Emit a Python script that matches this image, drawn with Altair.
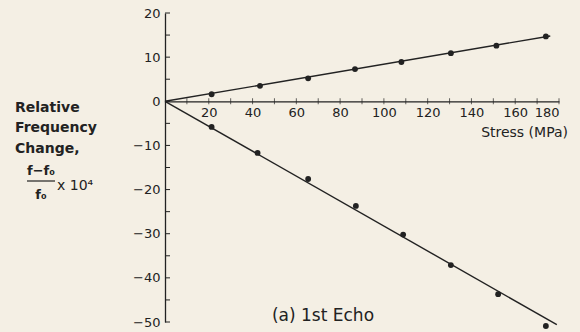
import altair as alt
import pandas as pd

# ---- data ----
up_x = [21.3, 43.4, 65.4, 86.8, 108.0, 130.6, 151.4, 174.0]
up_y = [1.6, 3.5, 5.2, 7.3, 8.9, 10.9, 12.6, 14.7]
lo_x = [21.3, 42.3, 65.4, 87.2, 108.8, 130.6, 152.2, 174.0]
lo_y = [-5.8, -11.7, -17.6, -23.7, -30.2, -37.1, -43.7, -50.9]

fit_up_x = [0, 176.0]
fit_up_y = [0, 14.8]
fit_lo_x = [0, 179.0]
fit_lo_y = [0, -50.6]

x_label_values = [20, 40, 60, 80, 100, 120, 140, 160, 180]
x_tick_values = [10, 20, 30, 40, 50, 60, 70, 80, 90, 100, 110, 120, 130, 140, 150, 160, 170, 180]
y_label_values = [20, 10, 0, -10, -20, -30, -40, -50]
y_tick_values = [20, 15, 10, 5, 0, -5, -10, -15, -20, -25, -30, -35, -40, -45, -50]

W, H = 394, 309
INK = "#222222"
FONT = "DejaVu Sans"

pts = pd.DataFrame(
    {"x": up_x + lo_x, "y": up_y + lo_y, "s": ["up"] * len(up_x) + ["lo"] * len(lo_x)}
)
fits = pd.DataFrame(
    {"x": fit_up_x + fit_lo_x, "y": fit_up_y + fit_lo_y, "s": ["up"] * 2 + ["lo"] * 2}
)
xt = pd.DataFrame({"x": x_tick_values, "y": [0] * len(x_tick_values)})
yt = pd.DataFrame({"y": y_tick_values})

xs = alt.Scale(domain=[0, 180], nice=False)
ys = alt.Scale(domain=[-50, 20], nice=False)

x_axis = alt.Axis(
    orient="bottom", offset=-H * 50 / 70, values=x_label_values, ticks=False,
    domainColor=INK, domainWidth=1.3, labelFont=FONT, labelFontSize=13, labelColor=INK,
    labelPadding=5, title=None, grid=False,
)
y_axis = alt.Axis(
    orient="left", values=y_label_values, ticks=False, domainColor=INK, domainWidth=1.3,
    labelFont=FONT, labelFontSize=13, labelColor=INK, labelPadding=5, title=None, grid=False,
)

lines = alt.Chart(fits).mark_line(color=INK, strokeWidth=1.4, clip=False).encode(
    x=alt.X("x:Q", scale=xs, axis=x_axis),
    y=alt.Y("y:Q", scale=ys, axis=y_axis),
    detail="s:N",
)
points = alt.Chart(pts).mark_circle(color=INK, size=34, opacity=1).encode(
    x=alt.X("x:Q", scale=xs), y=alt.Y("y:Q", scale=ys)
)
xticks = alt.Chart(xt).mark_tick(color=INK, size=6, thickness=1, orient="vertical").encode(
    x=alt.X("x:Q", scale=xs), y=alt.Y("y:Q", scale=ys)
)
yticks = alt.Chart(yt).mark_rule(color=INK, strokeWidth=1).encode(
    x=alt.value(0), x2=alt.value(5), y=alt.Y("y:Q", scale=ys)
)


def txt(s, x, y, size=14, weight="bold", align="left"):
    return alt.Chart(pd.DataFrame({"t": [s]})).mark_text(
        font=FONT, fontSize=size, fontWeight=weight, color=INK, align=align, baseline="middle"
    ).encode(x=alt.value(x), y=alt.value(y), text="t:N")


labels = [
    txt("Relative", -150, 95),
    txt("Frequency", -150, 115),
    txt("Change,", -150, 136),
    txt("f−f₀", -124, 158, size=13, align="center"),
    txt("f₀", -124, 182, size=13, align="center"),
    txt("x 10⁴", -108, 173, size=14, weight="normal"),
    txt("Stress (MPa)", 403, 120, size=14, weight="normal", align="right"),
    txt("(a) 1st Echo", 158, 303, size=17, weight="normal", align="center"),
]
frac_bar = alt.Chart(pd.DataFrame({"a": [0]})).mark_rule(color=INK, strokeWidth=1.2).encode(
    x=alt.value(-138), x2=alt.value(-110), y=alt.value(168)
)

chart = alt.layer(lines, points, xticks, yticks, frac_bar, *labels).properties(
    width=W, height=H,
    autosize=alt.AutoSizeParams(type="none"),
    padding={"left": 165, "top": 13, "right": 21, "bottom": 10},
    background="#f4efe4",
).configure_view(stroke=None)

chart.save("out.html", embed_options={"renderer": "svg", "actions": False})
